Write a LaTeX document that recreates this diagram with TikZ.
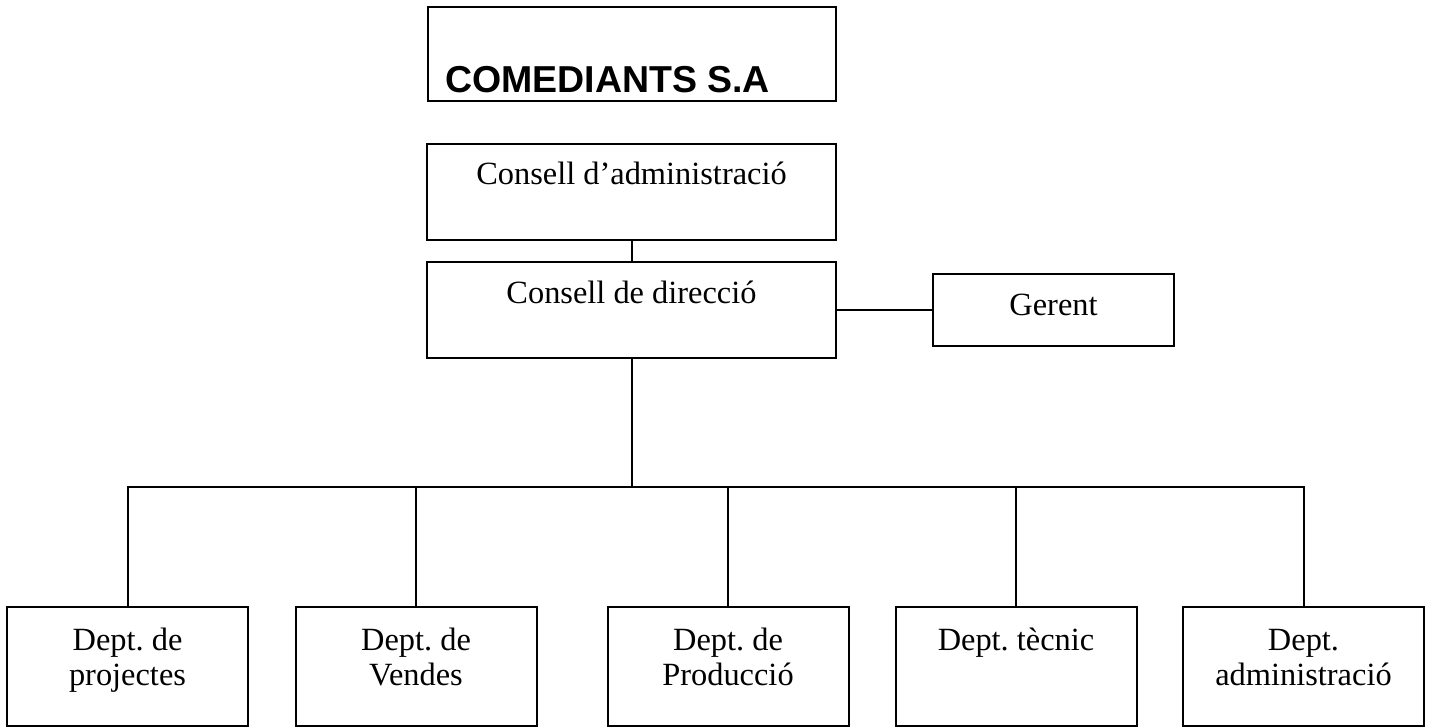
\documentclass[tikz,border=0pt]{standalone}
\usepackage{fontspec}
\setmainfont{Liberation Serif}
\newfontfamily\titlefont{Liberation Sans}
\usepackage{tikz}
\usetikzlibrary{positioning}
\frenchspacing
\tikzstyle{line} = [line width=1pt]
\tikzstyle{box} = [draw, line width=1pt, inner sep=0pt, align=flush center, font=\fontsize{16.2}{17.5}\selectfont]
\tikzstyle{title_box} = [box, align=flush left, inner xsep=8.5pt, text width=187pt, text height=43pt, text depth=4pt, font=\titlefont\bfseries\fontsize{18.75}{20}\selectfont]
\tikzstyle{board} = [box, text width=204.5pt, text height=20.5pt, text depth=27.5pt]
\tikzstyle{manager} = [box, text width=120.5pt, text height=20.5pt, text depth=15.5pt]
\tikzstyle{dept} = [box, text width=120.5pt, text height=21.5pt, text depth=38pt]

\begin{document}
\begin{tikzpicture}[x=0.5pt, y=-0.5pt]
        \useasboundingbox (0,0) rectangle (1429,727);

        \node (company) [title_box] at (632,54) {COMEDIANTS S.A};
        \node (cons_adm) [board] at (631.5,192) {Consell d’administració};
        \node (cons_dir) [board] at (631.5,310) {Consell de direcció};
        \node (gerent) [manager, right=47.5pt of cons_dir] {Gerent};

        \node (dept_proj) [dept] at (127.5,666.5) {Dept. de\\projectes};
        \node (dept_vend) [dept] at (416,666.5) {Dept. de\\Vendes};
        \node (dept_prod) [dept] at (728,666.5) {Dept. de\\Producció};
        \node (dept_tec) [dept] at (1016,666.5) {Dept. tècnic};
        \node (dept_adm) [dept] at (1303.5,666.5) {Dept.\\administració};

        \coordinate (bus) at (0,487);

        \draw [line] (cons_adm) -- (cons_dir);
        \draw [line] (cons_dir) -- (gerent);
        \draw [line] (cons_dir.south) -- (cons_dir.south |- bus);
        \draw [line] (dept_proj.north) -- (dept_proj.north |- bus) -- (dept_adm.north |- bus) -- (dept_adm.north);
        \foreach \d in {dept_vend, dept_prod, dept_tec}
            \draw [line] (\d.north) -- (\d.north |- bus);

    \end{tikzpicture}
\end{document}
